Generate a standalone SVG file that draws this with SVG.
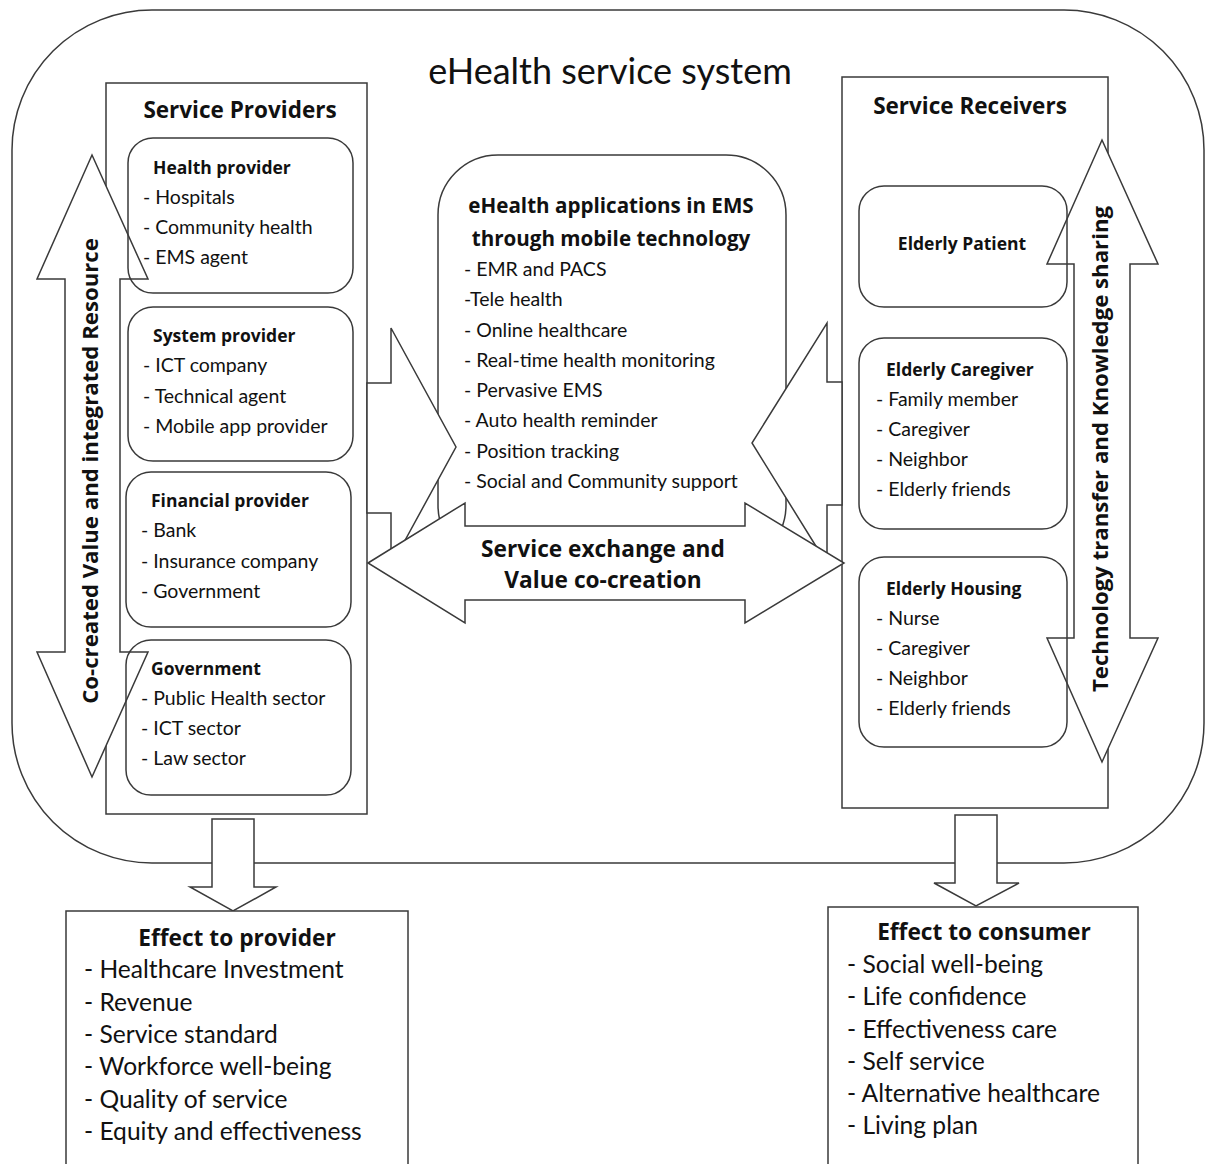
<svg xmlns="http://www.w3.org/2000/svg" width="1206" height="1164" viewBox="0 0 1206 1164">
<style>
.ln{fill:#fff;stroke:#3a3a3a;stroke-width:1.5}
.nf{fill:none;stroke:#3a3a3a;stroke-width:1.5}
text{font-family:Lato,"Open Sans",sans-serif;fill:#111}
.b{font-family:"Open Sans",Lato,sans-serif;font-weight:bold}
.it{font-size:19.5px}
.hd{font-size:17.5px}
.ch{font-size:20.6px}
.bh{font-size:22.5px}
.ef{font-size:24.6px}
.efh{font-size:22.7px}
.vt{font-size:22.2px}
</style>
<rect width="1206" height="1164" fill="#fff"/>
<g id="system">
<rect class="ln" x="12" y="10" width="1192" height="853" rx="140" ry="140"/>
<text x="610" y="84" text-anchor="middle" font-size="36" font-family="'Open Sans',sans-serif">eHealth service system</text>
</g>
<g id="service-providers">
<rect class="ln" x="106" y="83" width="261" height="731"/>
<text class="b bh" x="240" y="118" text-anchor="middle">Service Providers</text>
</g>
<g id="service-receivers">
<rect class="ln" x="842" y="77" width="266" height="731"/>
<text class="b bh" x="970" y="114" text-anchor="middle">Service Receivers</text>
</g>
<g id="ehealth-apps">
<rect class="ln" x="438" y="155" width="348" height="410" rx="60" ry="60"/>
</g>
<g id="connectors">
<path class="ln" d="M367,383 L391,383 L391,328 L456,447 L391,566 L391,513 L367,513 Z"/>
<path class="ln" d="M842,382 L827,382 L827,323 L752,443 L827,564 L827,505 L842,505 Z"/>
<path class="ln" d="M368,563 L465,503 L465,526 L745,526 L745,503 L844,563 L745,623 L745,600 L465,600 L465,623 Z"/>
<path class="ln" d="M92,155 L148,279 L120,279 L120,652 L148,652 L92,777 L37,652 L65,652 L65,279 L37,279 Z"/>
<path class="ln" d="M1102,140 L1158,264 L1130,264 L1130,638 L1158,638 L1102,762 L1047,638 L1074,638 L1074,264 L1047,264 Z"/>
<path class="ln" d="M212,819 L254,819 L254,887 L276,887 L233,911 L190,887 L212,887 Z"/>
<path class="ln" d="M955,815 L997,815 L997,883 L1019,883 L976,906 L934,883 L955,883 Z"/>
</g>
<g id="labels">
<text class="b vt" transform="translate(98,471) rotate(-90)" text-anchor="middle">Co-created Value and integrated Resource</text>
<text class="b vt" transform="translate(1108,449) rotate(-90)" text-anchor="middle">Technology transfer and Knowledge sharing</text>
<text class="b efh" x="603" y="557" text-anchor="middle">Service exchange and</text>
<text class="b efh" x="603" y="588" text-anchor="middle">Value co-creation</text>
</g>
<g id="ehealth-apps-text">
<text class="b ch" x="611" y="213" text-anchor="middle">eHealth applications in EMS</text>
<text class="b ch" x="611" y="246" text-anchor="middle">through mobile technology</text>
<text class="it" x="464" y="276">- EMR and PACS</text>
<text class="it" x="464" y="306">-Tele health</text>
<text class="it" x="464" y="337">- Online healthcare</text>
<text class="it" x="464" y="367">- Real-time health monitoring</text>
<text class="it" x="464" y="397">- Pervasive EMS</text>
<text class="it" x="464" y="427">- Auto health reminder</text>
<text class="it" x="464" y="458">- Position tracking</text>
<text class="it" x="464" y="488">- Social and Community support</text>
</g>
<g id="health-provider">
<rect class="nf" x="128" y="138" width="225" height="155" rx="25" ry="25"/>
<text class="b hd" x="153" y="174">Health provider</text>
<text class="it" x="143" y="204">- Hospitals</text>
<text class="it" x="143" y="234">- Community health</text>
<text class="it" x="143" y="264">- EMS agent</text>
</g>
<g id="system-provider">
<rect class="nf" x="128" y="307" width="225" height="154" rx="25" ry="25"/>
<text class="b hd" x="153" y="342">System provider</text>
<text class="it" x="143" y="372">- ICT company</text>
<text class="it" x="143" y="403">- Technical agent</text>
<text class="it" x="143" y="433">- Mobile app provider</text>
</g>
<g id="financial-provider">
<rect class="nf" x="126" y="472" width="225" height="155" rx="25" ry="25"/>
<text class="b hd" x="151" y="507">Financial provider</text>
<text class="it" x="141" y="537">- Bank</text>
<text class="it" x="141" y="568">- Insurance company</text>
<text class="it" x="141" y="598">- Government</text>
</g>
<g id="government">
<rect class="nf" x="126" y="640" width="225" height="155" rx="25" ry="25"/>
<text class="b hd" x="151" y="675">Government</text>
<text class="it" x="141" y="705">- Public Health sector</text>
<text class="it" x="141" y="735">- ICT sector</text>
<text class="it" x="141" y="765">- Law sector</text>
</g>
<g id="elderly-patient">
<rect class="nf" x="859" y="186" width="208" height="121" rx="25" ry="25"/>
<text class="b hd" x="962" y="250" text-anchor="middle">Elderly Patient</text>
</g>
<g id="elderly-caregiver">
<rect class="nf" x="859" y="338" width="208" height="191" rx="25" ry="25"/>
<text class="b hd" x="886" y="376">Elderly Caregiver</text>
<text class="it" x="876" y="406">- Family member</text>
<text class="it" x="876" y="436">- Caregiver</text>
<text class="it" x="876" y="466">- Neighbor</text>
<text class="it" x="876" y="496">- Elderly friends</text>
</g>
<g id="elderly-housing">
<rect class="nf" x="859" y="557" width="208" height="190" rx="25" ry="25"/>
<text class="b hd" x="886" y="595">Elderly Housing</text>
<text class="it" x="876" y="625">- Nurse</text>
<text class="it" x="876" y="655">- Caregiver</text>
<text class="it" x="876" y="685">- Neighbor</text>
<text class="it" x="876" y="715">- Elderly friends</text>
</g>
<g id="effect-provider">
<rect class="ln" x="66" y="911" width="342" height="270"/>
<text class="b efh" x="237" y="946" text-anchor="middle">Effect to provider</text>
<text class="ef" x="84" y="978">- Healthcare Investment</text>
<text class="ef" x="84" y="1011">- Revenue</text>
<text class="ef" x="84" y="1043">- Service standard</text>
<text class="ef" x="84" y="1075">- Workforce well-being</text>
<text class="ef" x="84" y="1108">- Quality of service</text>
<text class="ef" x="84" y="1140">- Equity and effectiveness</text>
</g>
<g id="effect-consumer">
<rect class="ln" x="828" y="907" width="310" height="275"/>
<text class="b efh" x="984" y="940" text-anchor="middle">Effect to consumer</text>
<text class="ef" x="847" y="973">- Social well-being</text>
<text class="ef" x="847" y="1005">- Life confidence</text>
<text class="ef" x="847" y="1038">- Effectiveness care</text>
<text class="ef" x="847" y="1070">- Self service</text>
<text class="ef" x="847" y="1102">- Alternative healthcare</text>
<text class="ef" x="847" y="1134">- Living plan</text>
</g>
</svg>
